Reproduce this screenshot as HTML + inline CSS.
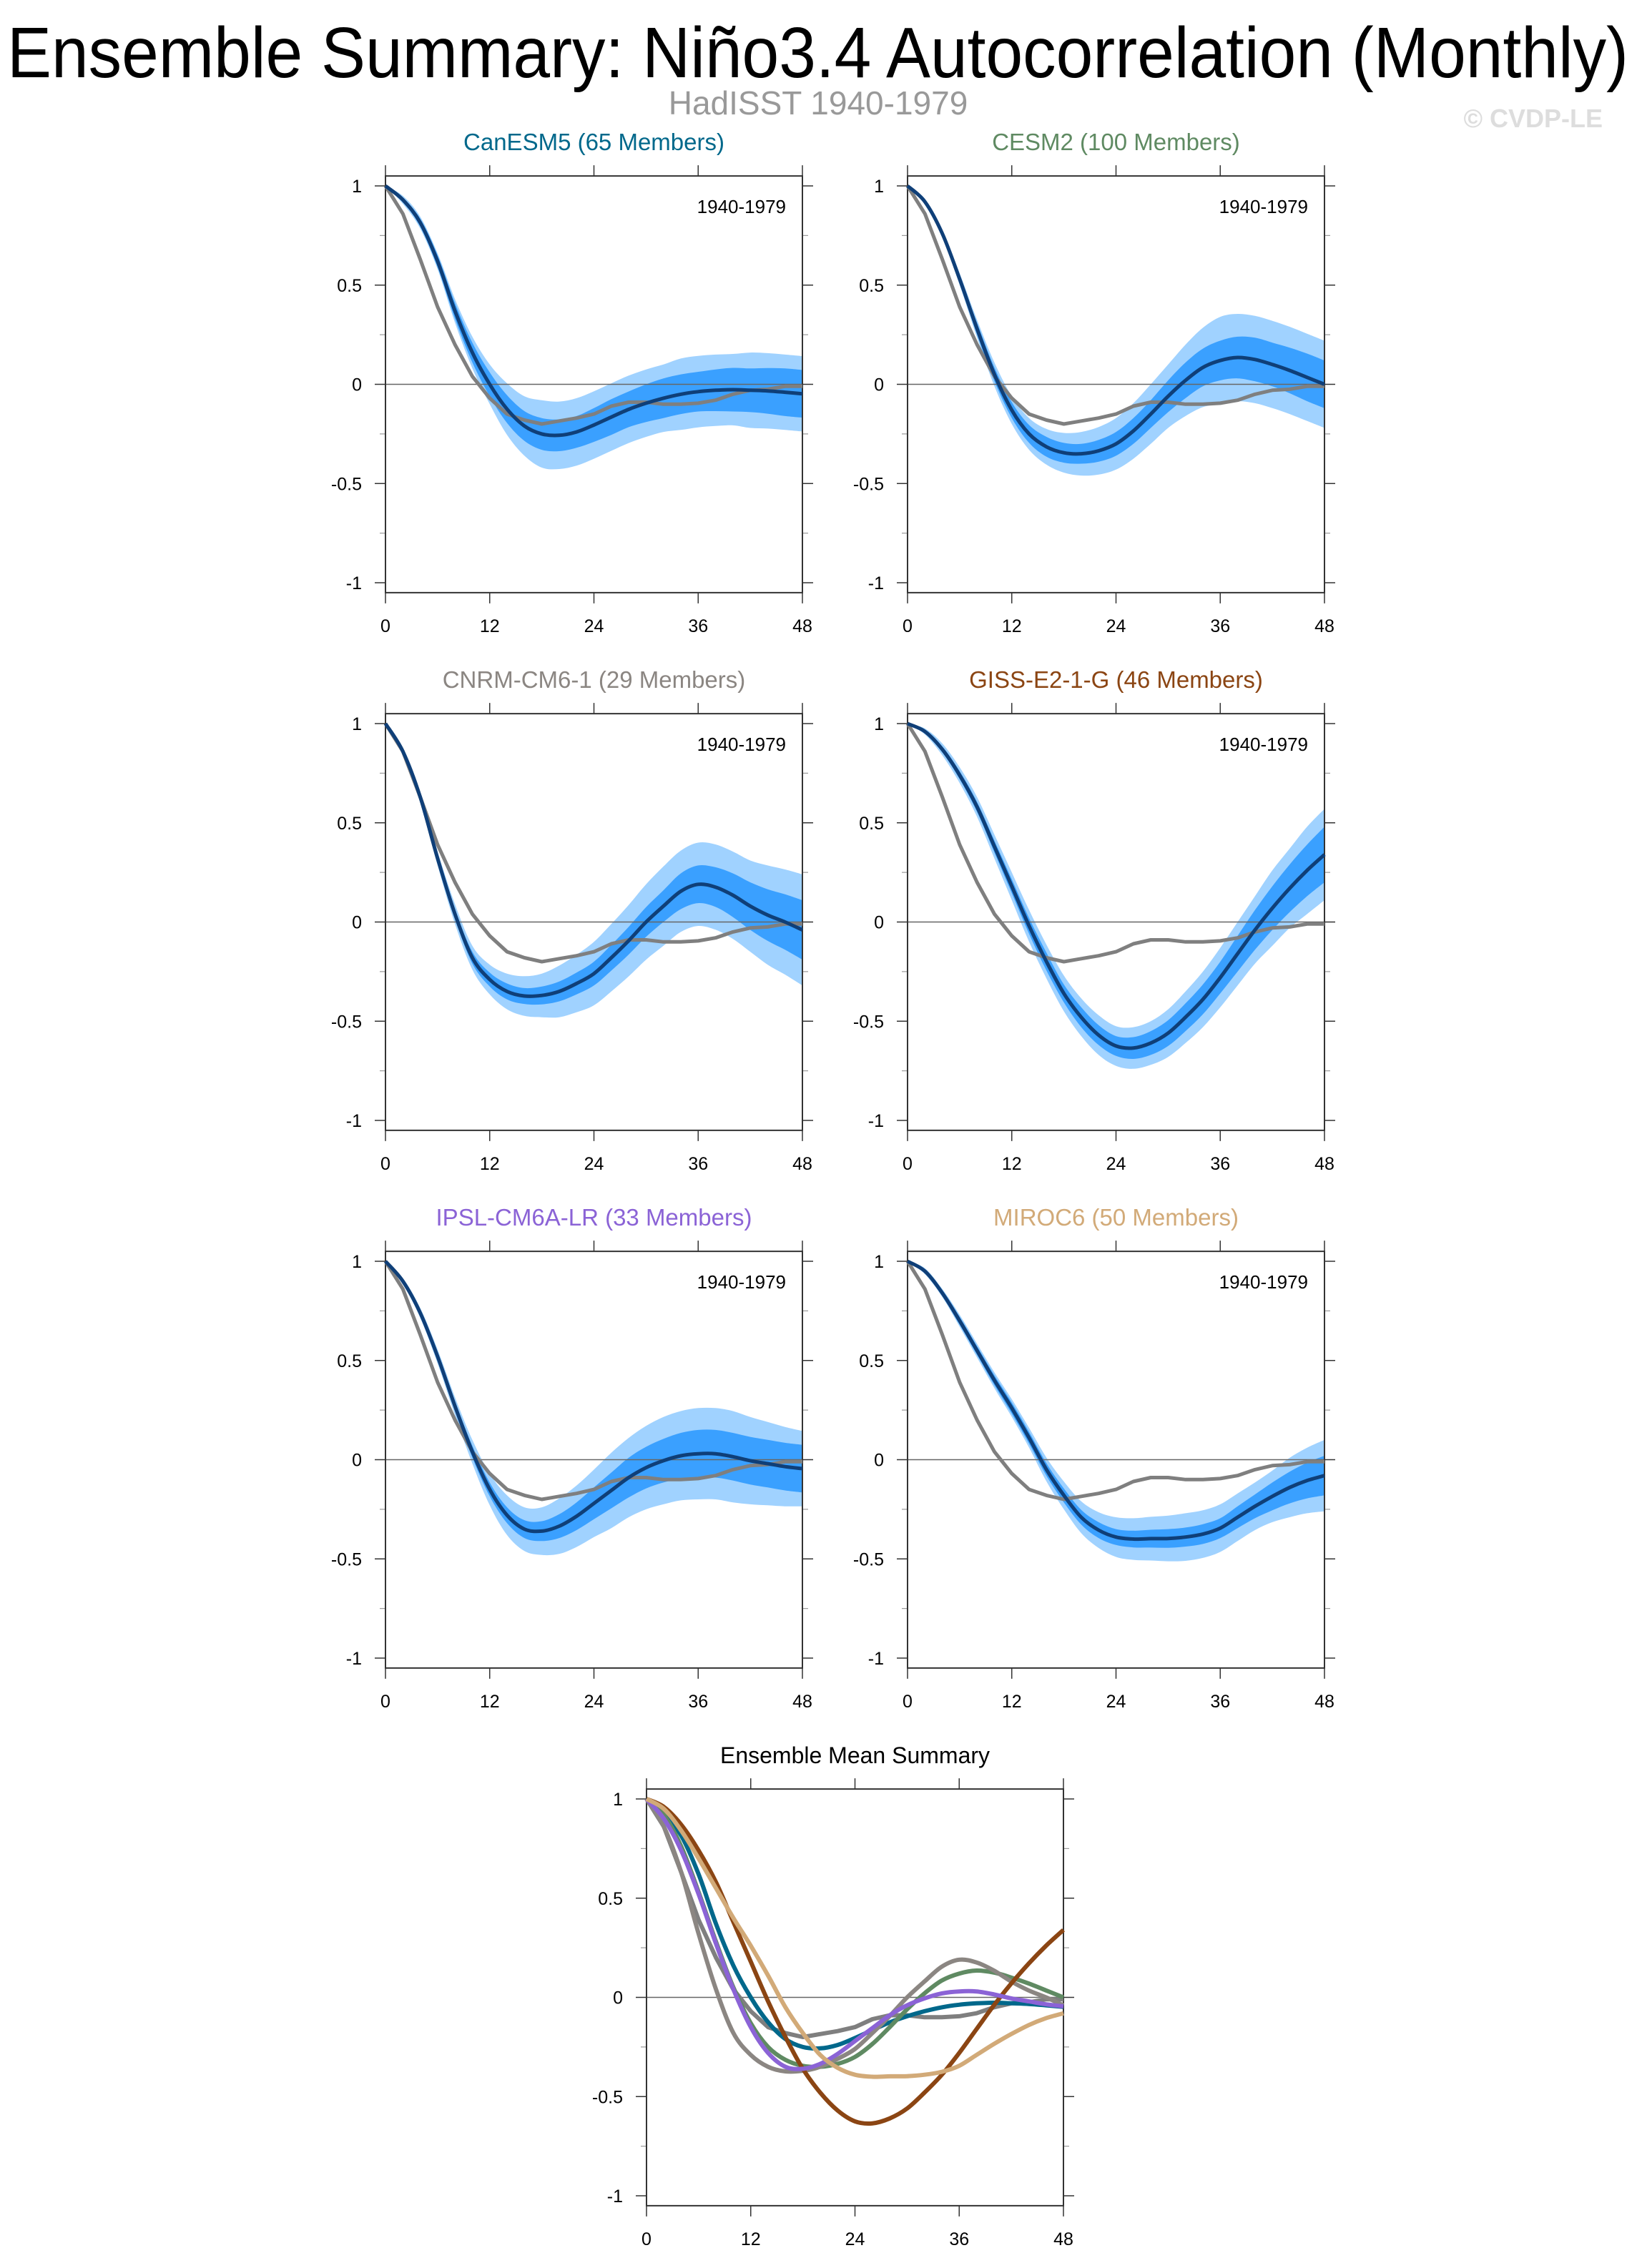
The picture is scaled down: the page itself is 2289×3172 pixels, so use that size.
<!DOCTYPE html>
<html><head><meta charset="utf-8">
<style>
html,body{margin:0;padding:0;background:#fff;}
svg{display:block;font-family:"Liberation Sans",Arial,sans-serif;}
</style></head>
<body>
<svg id="fig" width="2289" height="3172" viewBox="0 0 2289 3172" xmlns="http://www.w3.org/2000/svg">
<rect width="2289" height="3172" fill="#fff"/>
<text x="10" y="108" font-size="100" textLength="2267" lengthAdjust="spacingAndGlyphs" fill="#000">Ensemble Summary: Niño3.4 Autocorrelation (Monthly)</text>
<text x="1144" y="160" font-size="46" text-anchor="middle" fill="#999">HadISST 1940-1979</text>
<text x="2241" y="178" font-size="36" font-weight="bold" text-anchor="end" fill="#ddd">© CVDP-LE</text>
</svg>
<script>
// lags sampled every 2 months: 0,2,...,48
const lags = [0,2,4,6,8,10,12,14,16,18,20,22,24,26,28,30,32,34,36,38,40,42,44,46,48];
const yTicks = [1,0.5,0,-0.5,-1];
const yTickLabels = ["1","0.5","0","-0.5","-1"];
const yMinorTicks = [0.75,0.25,-0.25,-0.75];
const xTicks = [0,12,24,36,48];
const xTickLabels = ["0","12","24","36","48"];

const obs = [1.0,0.86,0.63,0.39,0.20,0.04,-0.07,-0.15,-0.18,-0.20,-0.185,-0.17,-0.15,-0.11,-0.09,-0.09,-0.10,-0.10,-0.095,-0.08,-0.05,-0.03,-0.025,-0.01,-0.01];

const canesm5Mean = [1,0.93,0.815,0.62,0.37,0.16,0.0,-0.125,-0.21,-0.25,-0.257,-0.24,-0.205,-0.165,-0.126,-0.095,-0.07,-0.05,-0.037,-0.03,-0.027,-0.03,-0.033,-0.04,-0.048];
const canesm5Inner = [0,0.01,0.02,0.03,0.04,0.05,0.06,0.07,0.075,0.08,0.08,0.08,0.085,0.09,0.09,0.095,0.1,0.1,0.1,0.105,0.11,0.11,0.115,0.12,0.12];
const canesm5Outer = [0,0.02,0.03,0.04,0.06,0.08,0.1,0.13,0.15,0.17,0.17,0.17,0.17,0.17,0.17,0.17,0.17,0.18,0.18,0.18,0.18,0.19,0.19,0.19,0.19];

const cesm2Mean = [1,0.92,0.76,0.53,0.28,0.05,-0.13,-0.25,-0.315,-0.345,-0.35,-0.335,-0.3,-0.235,-0.15,-0.06,0.02,0.085,0.12,0.135,0.125,0.1,0.07,0.035,0.0];
const cesm2Inner = [0,0.01,0.015,0.02,0.03,0.035,0.04,0.045,0.05,0.05,0.05,0.055,0.06,0.065,0.07,0.08,0.09,0.095,0.1,0.105,0.11,0.11,0.115,0.12,0.12];
const cesm2Outer = [0,0.015,0.02,0.03,0.045,0.06,0.07,0.08,0.09,0.1,0.11,0.12,0.13,0.14,0.15,0.16,0.18,0.2,0.22,0.22,0.22,0.22,0.22,0.22,0.22];

const cnrmMean = [1,0.86,0.63,0.32,0.04,-0.18,-0.29,-0.35,-0.373,-0.37,-0.35,-0.31,-0.26,-0.18,-0.094,0.0,0.08,0.155,0.19,0.176,0.135,0.08,0.035,0.0,-0.04];
const cnrmInner = [0,0.01,0.015,0.02,0.025,0.03,0.035,0.04,0.04,0.045,0.05,0.055,0.06,0.065,0.07,0.075,0.08,0.09,0.095,0.1,0.11,0.12,0.13,0.14,0.15];
const cnrmOuter = [0,0.015,0.025,0.035,0.05,0.06,0.075,0.09,0.1,0.11,0.13,0.145,0.16,0.17,0.18,0.19,0.2,0.205,0.21,0.215,0.22,0.23,0.25,0.265,0.28];

const gissMean = [1,0.96,0.87,0.74,0.58,0.38,0.18,-0.02,-0.2,-0.36,-0.48,-0.57,-0.625,-0.635,-0.61,-0.56,-0.48,-0.39,-0.28,-0.16,-0.04,0.07,0.17,0.26,0.34];
const gissInner = [0,0.01,0.015,0.02,0.025,0.03,0.035,0.04,0.045,0.045,0.05,0.05,0.05,0.055,0.06,0.065,0.07,0.075,0.08,0.09,0.1,0.11,0.12,0.13,0.14];
const gissOuter = [0,0.015,0.03,0.04,0.05,0.06,0.07,0.08,0.085,0.09,0.095,0.1,0.1,0.105,0.11,0.12,0.13,0.14,0.15,0.16,0.17,0.19,0.2,0.22,0.23];

const ipslMean = [1,0.9,0.74,0.52,0.27,0.04,-0.15,-0.28,-0.35,-0.36,-0.335,-0.285,-0.22,-0.155,-0.09,-0.04,-0.005,0.02,0.03,0.03,0.015,-0.005,-0.02,-0.035,-0.045];
const ipslInner = [0,0.01,0.015,0.02,0.025,0.03,0.035,0.04,0.045,0.05,0.06,0.07,0.08,0.09,0.1,0.105,0.11,0.115,0.12,0.12,0.12,0.12,0.12,0.12,0.12];
const ipslOuter = [0,0.015,0.025,0.035,0.045,0.06,0.08,0.1,0.11,0.12,0.14,0.155,0.17,0.19,0.2,0.21,0.22,0.225,0.23,0.23,0.23,0.22,0.21,0.2,0.19];

const miroc6Mean = [1,0.95,0.84,0.7,0.55,0.4,0.26,0.11,-0.05,-0.18,-0.29,-0.355,-0.39,-0.4,-0.398,-0.397,-0.39,-0.375,-0.345,-0.29,-0.235,-0.185,-0.14,-0.105,-0.08];
const miroc6Inner = [0,0.01,0.015,0.02,0.022,0.025,0.028,0.03,0.032,0.035,0.037,0.04,0.04,0.042,0.045,0.047,0.048,0.05,0.05,0.055,0.06,0.07,0.08,0.09,0.1];
const miroc6Outer = [0,0.015,0.02,0.03,0.035,0.04,0.045,0.05,0.06,0.07,0.08,0.09,0.1,0.105,0.11,0.115,0.12,0.12,0.12,0.12,0.12,0.13,0.15,0.165,0.18];

const models = [
 {name:"CanESM5 (65 Members)", key:"canesm5", color:"#00688b", mean:canesm5Mean, inner:canesm5Inner, outer:canesm5Outer, x0:539, y1:260},
 {name:"CESM2 (100 Members)", key:"cesm2", color:"#5f8a62", mean:cesm2Mean, inner:cesm2Inner, outer:cesm2Outer, x0:1269, y1:260},
 {name:"CNRM-CM6-1 (29 Members)", key:"cnrm-cm6-1", color:"#8b8682", mean:cnrmMean, inner:cnrmInner, outer:cnrmOuter, x0:539, y1:1012},
 {name:"GISS-E2-1-G (46 Members)", key:"giss-e2-1-g", color:"#8b4513", mean:gissMean, inner:gissInner, outer:gissOuter, x0:1269, y1:1012},
 {name:"IPSL-CM6A-LR (33 Members)", key:"ipsl-cm6a-lr", color:"#8b63d6", mean:ipslMean, inner:ipslInner, outer:ipslOuter, x0:539, y1:1764},
 {name:"MIROC6 (50 Members)", key:"miroc6", color:"#d2aa78", mean:miroc6Mean, inner:miroc6Inner, outer:miroc6Outer, x0:1269, y1:1764}
];

const NS = "http://www.w3.org/2000/svg";
const svg = document.getElementById('fig');
const W = 583, HU = 277.5;
function mk(tag, attrs, parent){
  const e = document.createElementNS(NS, tag);
  for (const k in attrs) e.setAttribute(k, attrs[k]);
  (parent||svg).appendChild(e); return e;
}
function axes(x0, y1){
  return { x: l => x0 + l*W/48, y: v => y1 + (1-v)*HU };
}
function linePath(ax, vals){
  return vals.map((v,i)=>(i?'L':'M')+ax.x(lags[i]).toFixed(1)+','+ax.y(v).toFixed(1)).join(' ');
}
function smoothPts(pts){
  let d = 'M'+pts[0][0].toFixed(1)+','+pts[0][1].toFixed(1);
  for (let i=0;i<pts.length-1;i++){
    const p0 = pts[Math.max(0,i-1)], p1 = pts[i], p2 = pts[i+1], p3 = pts[Math.min(pts.length-1,i+2)];
    const c1x = p1[0]+(p2[0]-p0[0])/6, c1y = p1[1]+(p2[1]-p0[1])/6;
    const c2x = p2[0]-(p3[0]-p1[0])/6, c2y = p2[1]-(p3[1]-p1[1])/6;
    d += ' C'+c1x.toFixed(1)+','+c1y.toFixed(1)+' '+c2x.toFixed(1)+','+c2y.toFixed(1)+' '+p2[0].toFixed(1)+','+p2[1].toFixed(1);
  }
  return d;
}
function smoothPath(ax, vals){
  return smoothPts(vals.map((v,i)=>[ax.x(lags[i]), ax.y(v)]));
}
function bandPath(ax, mean, hw){
  const up = mean.map((m,i)=>[ax.x(lags[i]), ax.y(m+hw[i])]);
  const dn = mean.map((m,i)=>[ax.x(lags[i]), ax.y(m-hw[i])]).reverse();
  return smoothPts(up) + ' L' + smoothPts(dn).slice(1) + ' Z';
}
function frame(g, x0, y1, ax){
  const top = ax.y(1.05), bot = ax.y(-1.05), x48 = x0+W, T = 15;
  let z = mk('line',{x1:x0,x2:x48,y1:ax.y(0),y2:ax.y(0),stroke:'#666','stroke-width':1.5},g);
   
  yTicks.forEach((t,i)=>{
    const y = ax.y(t);
    const a = mk('line',{x1:x0-T,x2:x0,y1:y,y2:y,stroke:'#333','stroke-width':1.5},g);
     
    const b = mk('line',{x1:x48,x2:x48+T,y1:y,y2:y,stroke:'#333','stroke-width':1.5},g);
     
    const tx = mk('text',{x:x0-33,y:y+9,'font-size':25,'text-anchor':'end',fill:'#000'},g);
    tx.textContent = yTickLabels[i];
     
  });
  yMinorTicks.forEach(t=>{
    const y = ax.y(t);
    const a = mk('line',{x1:x0-8,x2:x0,y1:y,y2:y,stroke:'#999','stroke-width':1.2},g);
     
    const b = mk('line',{x1:x48,x2:x48+8,y1:y,y2:y,stroke:'#999','stroke-width':1.2},g);
     
  });
  xTicks.forEach((t,i)=>{
    const x = ax.x(t);
    const a = mk('line',{x1:x,x2:x,y1:bot,y2:bot+T,stroke:'#333','stroke-width':1.5},g);
     
    const b = mk('line',{x1:x,x2:x,y1:top-T,y2:top,stroke:'#333','stroke-width':1.5},g);
     
    const tx = mk('text',{x:x,y:bot+55,'font-size':25,'text-anchor':'middle',fill:'#000'},g);
    tx.textContent = xTickLabels[i];
     
  });
  const r = mk('rect',{x:x0,y:top,width:W,height:bot-top,fill:'none',stroke:'#333','stroke-width':2},g);
   
  return {top,bot};
}

models.forEach(m=>{
  const g = mk('g',{});
  
  
  const ax = axes(m.x0, m.y1);
  const top = ax.y(1.05);
  const o = mk('path',{d:bandPath(ax,m.mean,m.outer),fill:'#a0d2ff',stroke:'none'},g);
   
  const inr = mk('path',{d:bandPath(ax,m.mean,m.inner),fill:'#3aa0ff',stroke:'none'},g);
   
  frame(g, m.x0, m.y1, ax);
  const ob = mk('path',{d:linePath(ax,obs),fill:'none',stroke:'#7f7f7f','stroke-width':5,'stroke-linejoin':'round'},g);
   
  const ml = mk('path',{d:smoothPath(ax,m.mean),fill:'none',stroke:'#0f3f78','stroke-width':5,'stroke-linejoin':'round'},g);
   
  const t = mk('text',{x:m.x0+W/2,y:top-36,'font-size':33,'text-anchor':'middle',fill:m.color},g);
  t.textContent = m.name;
   
  const p = mk('text',{x:m.x0+W-23,y:top+52,'font-size':26,'text-anchor':'end',fill:'#000'},g);
  p.textContent = '1940-1979';
   
});

(function(){
  const x0 = 904, y1 = 2516;
  const g = mk('g',{});
  
  
  const ax = axes(x0, y1);
  const top = ax.y(1.05);
  frame(g, x0, y1, ax);
  const ob = mk('path',{d:linePath(ax,obs),fill:'none',stroke:'#7f7f7f','stroke-width':6,'stroke-linejoin':'round'},g);
   
  models.forEach(m=>{
    const l = mk('path',{d:smoothPath(ax,m.mean),fill:'none',stroke:m.color,'stroke-width':6,'stroke-linejoin':'round'},g);
    
    
  });
  const t = mk('text',{x:x0+W/2,y:top-36,'font-size':32,'text-anchor':'middle',fill:'#000'},g);
  t.textContent = 'Ensemble Mean Summary';
   
})();
</script>
</body></html>
